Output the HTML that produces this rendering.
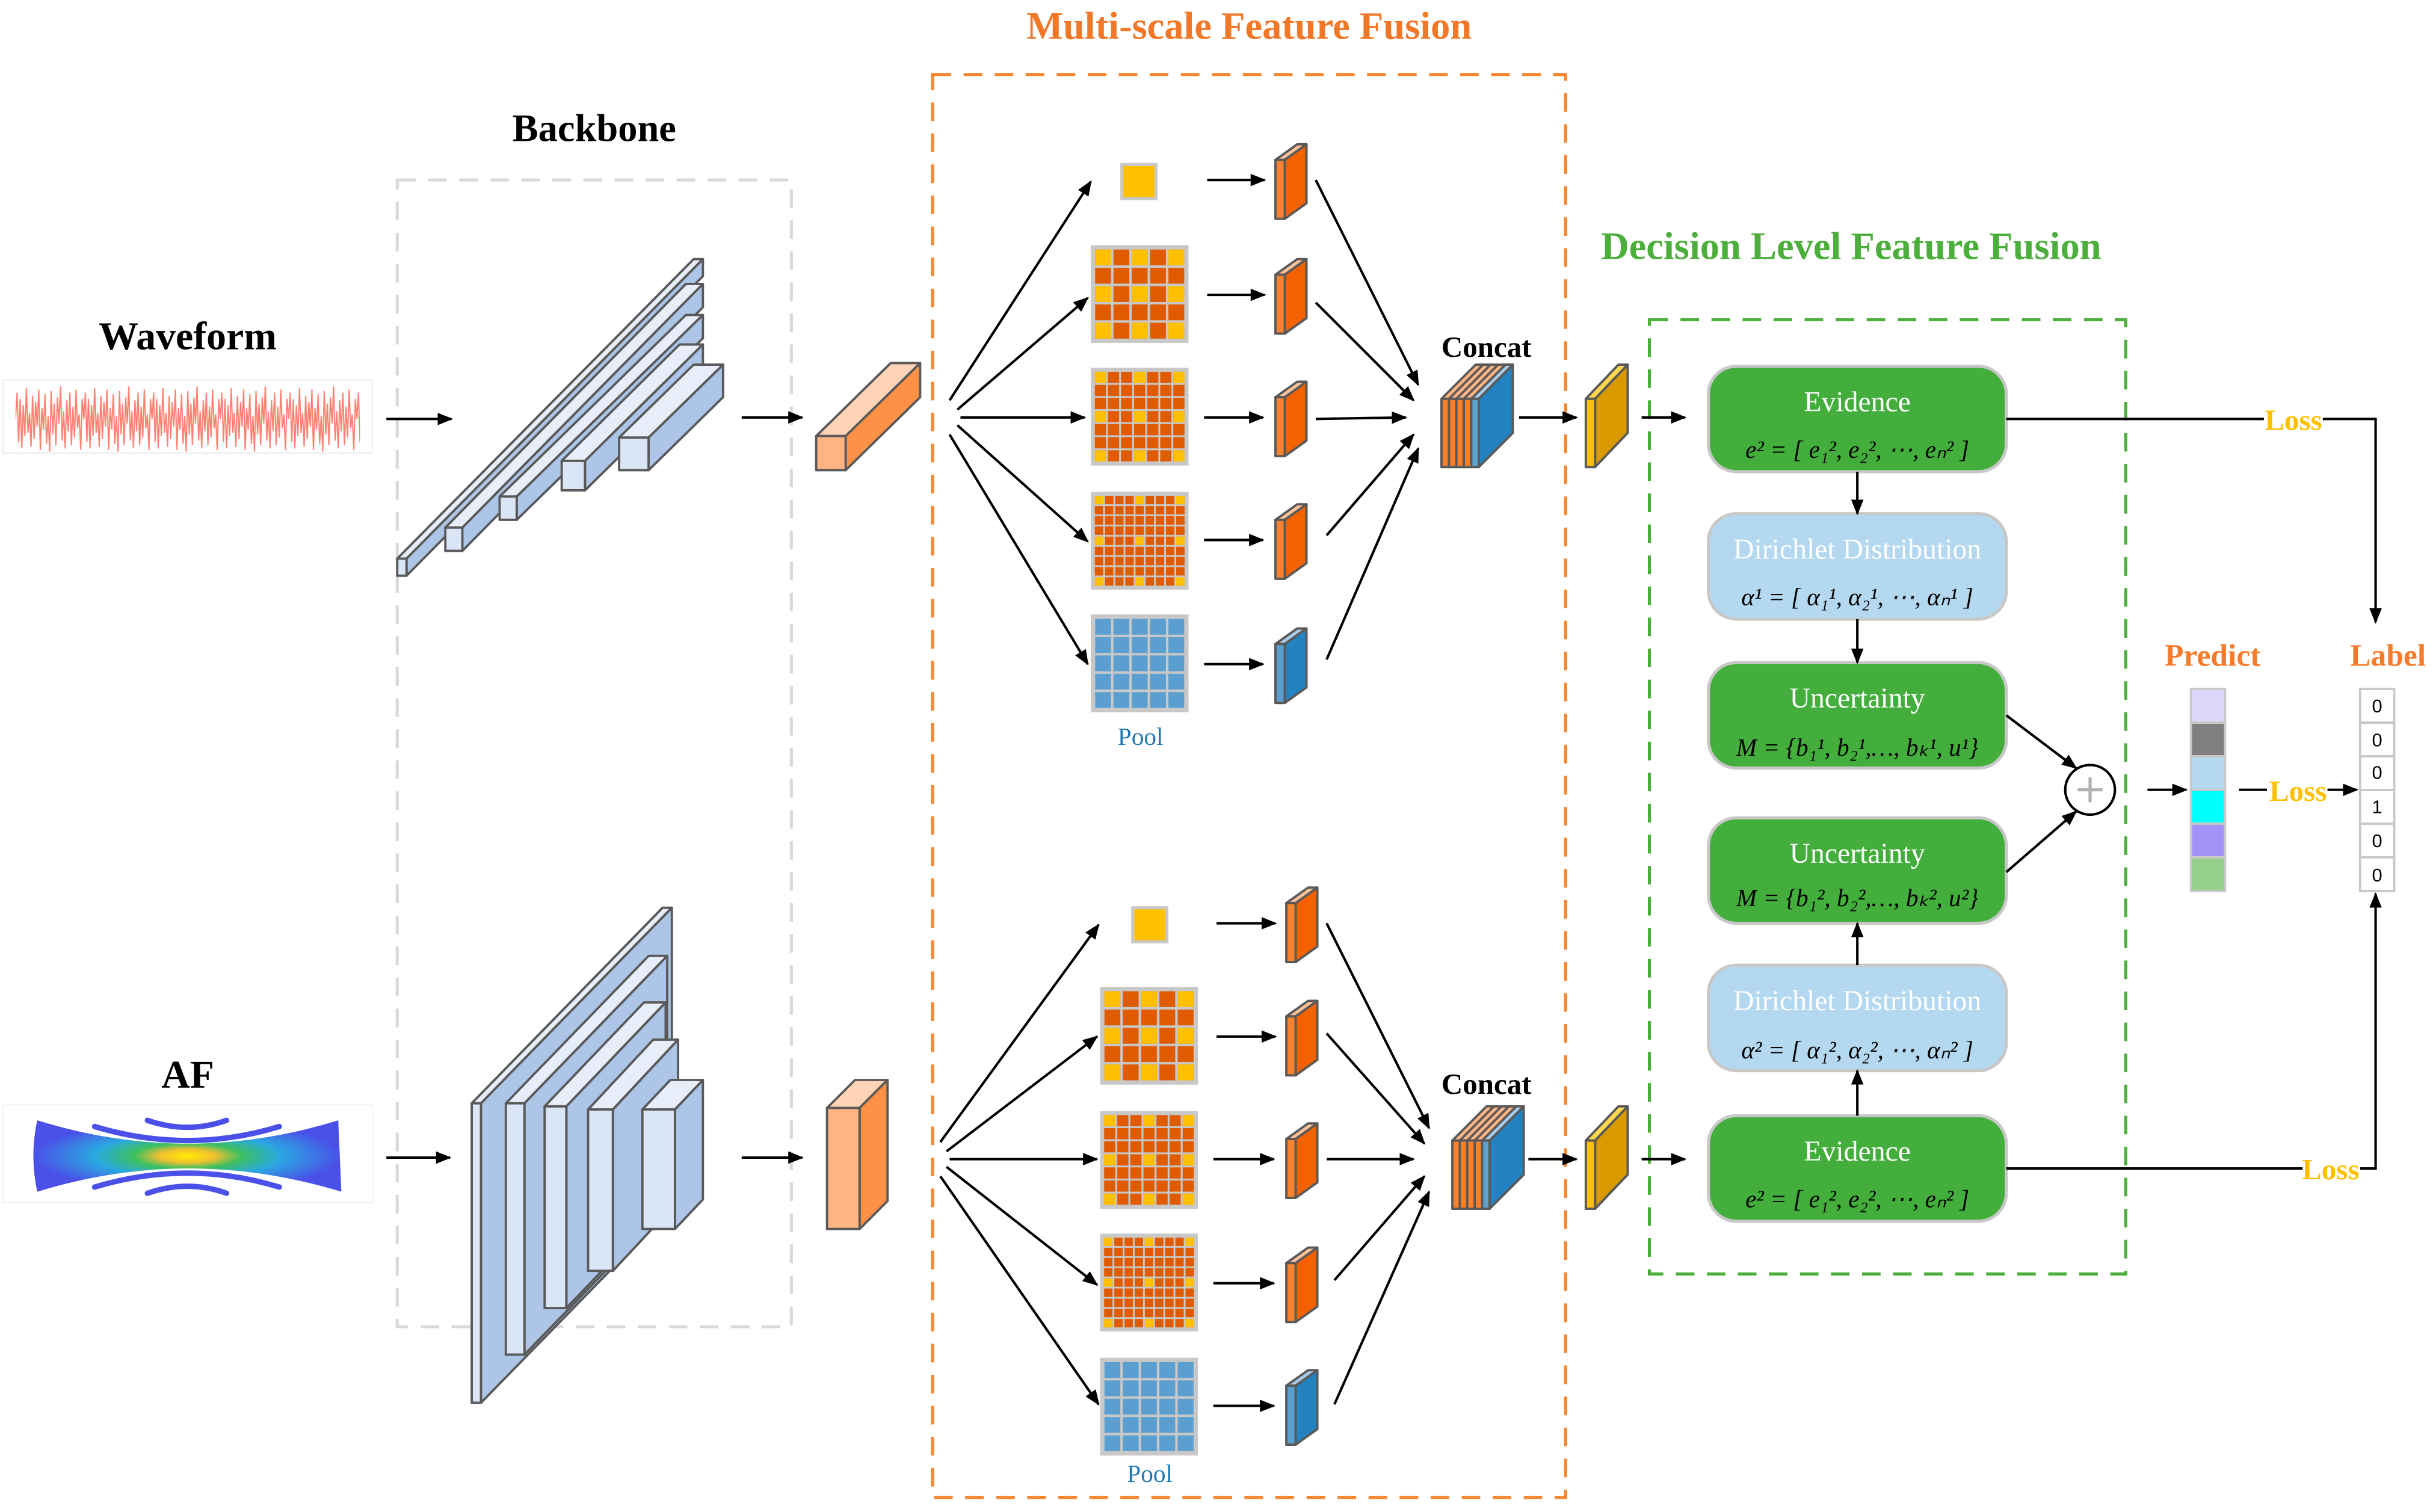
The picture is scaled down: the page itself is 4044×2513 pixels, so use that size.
<!DOCTYPE html>
<html><head><meta charset="utf-8"><style>
html,body{margin:0;padding:0;background:#fff;}
svg{display:block;}
text{font-family:"Liberation Serif",serif;}
</style></head><body>
<svg xmlns="http://www.w3.org/2000/svg" width="4044" height="2513" viewBox="0 0 1568 974.4" preserveAspectRatio="none">
<defs>
<marker id="ah" markerWidth="10" markerHeight="8" refX="9" refY="4" orient="auto" markerUnits="userSpaceOnUse"><path d="M0,0 L10,4 L0,8 Z" fill="#000"/></marker>
<pattern id="P5" x="2" y="2" width="11.8" height="11.8" patternUnits="userSpaceOnUse"><rect width="11.8" height="11.8" fill="#c8c8c8"/><rect x="0.8" y="0.8" width="10.2" height="10.2" fill="#e05a00"/></pattern>
<pattern id="B5" x="2" y="2" width="11.8" height="11.8" patternUnits="userSpaceOnUse"><rect width="11.8" height="11.8" fill="#c8c8c8"/><rect x="0.8" y="0.8" width="10.2" height="10.2" fill="#5b9fd0"/></pattern>
<pattern id="P7" x="2" y="2" width="8.4286" height="8.4286" patternUnits="userSpaceOnUse"><rect width="8.43" height="8.43" fill="#c8c8c8"/><rect x="0.6" y="0.6" width="7.2" height="7.2" fill="#e05a00"/></pattern>
<pattern id="P9" x="2" y="2" width="6.5556" height="6.5556" patternUnits="userSpaceOnUse"><rect width="6.56" height="6.56" fill="#c8c8c8"/><rect x="0.58" y="0.58" width="5.4" height="5.4" fill="#e05a00"/></pattern>
<pattern id="WV" x="10" y="247" width="44" height="46" patternUnits="userSpaceOnUse">
<polyline fill="none" stroke="#ff8070" stroke-width="0.8" points="0,23 1,6 2,38 3,10 4,42 5,14 6,34 7,3 8,32 9,19 10,41 11,8 12,36 13,12 14,28 15,4 16,43 17,16 18,30 19,7 20,39 21,21 22,44 23,5 24,33 25,13 26,40 27,9 28,26 29,2 30,37 31,18 32,42 33,11 34,31 35,6 36,40 37,15 38,35 39,4 40,29 41,20 42,43 43,10 44,23"/></pattern>
<radialGradient id="afg" cx="0.5" cy="0.5" r="0.5"><stop offset="0" stop-color="#ffee00"/><stop offset="0.18" stop-color="#f0c030"/><stop offset="0.35" stop-color="#3cc060"/><stop offset="0.6" stop-color="#2aa8e0"/><stop offset="1" stop-color="#4a50e8"/></radialGradient>

<g id="g5"><rect width="63" height="63" fill="#c8c8c8"/><rect x="2" y="2" width="59" height="59" fill="url(#P5)"/>
<g fill="#ffc000"><rect x="2.8" y="2.8" width="10.2" height="10.2"/><rect x="26.4" y="2.8" width="10.2" height="10.2"/><rect x="50" y="2.8" width="10.2" height="10.2"/><rect x="2.8" y="26.4" width="10.2" height="10.2"/><rect x="26.4" y="26.4" width="10.2" height="10.2"/><rect x="50" y="26.4" width="10.2" height="10.2"/><rect x="2.8" y="50" width="10.2" height="10.2"/><rect x="26.4" y="50" width="10.2" height="10.2"/><rect x="50" y="50" width="10.2" height="10.2"/></g></g>
<g id="g7"><rect width="63" height="63" fill="#c8c8c8"/><rect x="2" y="2" width="59" height="59" fill="url(#P7)"/>
<g fill="#ffc000"><rect x="2.6" y="2.6" width="7.2" height="7.2"/><rect x="27.9" y="2.6" width="7.2" height="7.2"/><rect x="53.2" y="2.6" width="7.2" height="7.2"/><rect x="2.6" y="27.9" width="7.2" height="7.2"/><rect x="27.9" y="27.9" width="7.2" height="7.2"/><rect x="53.2" y="27.9" width="7.2" height="7.2"/><rect x="2.6" y="53.2" width="7.2" height="7.2"/><rect x="27.9" y="53.2" width="7.2" height="7.2"/><rect x="53.2" y="53.2" width="7.2" height="7.2"/></g></g>
<g id="g9"><rect width="63" height="63" fill="#c8c8c8"/><rect x="2" y="2" width="59" height="59" fill="url(#P9)"/>
<g fill="#ffc000"><rect x="2.58" y="2.58" width="5.4" height="5.4"/><rect x="28.8" y="2.58" width="5.4" height="5.4"/><rect x="55.0" y="2.58" width="5.4" height="5.4"/><rect x="2.58" y="28.8" width="5.4" height="5.4"/><rect x="28.8" y="28.8" width="5.4" height="5.4"/><rect x="55.0" y="28.8" width="5.4" height="5.4"/><rect x="2.58" y="55.0" width="5.4" height="5.4"/><rect x="28.8" y="55.0" width="5.4" height="5.4"/><rect x="55.0" y="55.0" width="5.4" height="5.4"/></g></g>
<g id="gb"><rect width="63" height="63" fill="#c8c8c8"/><rect x="2" y="2" width="59" height="59" fill="url(#B5)"/></g>
<g id="gs"><rect x="0" y="0" width="22" height="22" fill="#ffc000" stroke="#c8c8c8" stroke-width="2"/></g>

<g id="bo" stroke="#595959" stroke-width="1.5" stroke-linejoin="round"><polygon points="0,0 6,0 20,-10 14,-10" fill="#ffc199"/><polygon points="6,0 20,-10 20,28 6,38" fill="#f46200"/><rect x="0" y="0" width="6" height="38" fill="#f58330"/></g>
<g id="bb" stroke="#595959" stroke-width="1.5" stroke-linejoin="round"><polygon points="0,0 6,0 20,-10 14,-10" fill="#a9cce8"/><polygon points="6,0 20,-10 20,28 6,38" fill="#2383c1"/><rect x="0" y="0" width="6" height="38" fill="#5b9fd0"/></g>

<g id="cc" stroke="#595959" stroke-width="1.5" stroke-linejoin="round">
<polygon points="0,0 24,0 46,-22 22,-22" fill="#ffb482"/>
<polygon points="19.2,0 24,0 46,-22 41.2,-22" fill="#a9cce8"/>
<line x1="4.8" y1="0" x2="26.8" y2="-22"/><line x1="9.6" y1="0" x2="31.6" y2="-22"/><line x1="14.4" y1="0" x2="36.4" y2="-22"/><line x1="19.2" y1="0" x2="41.2" y2="-22"/>
<polygon points="24,0 46,-22 46,22 24,44" fill="#2383c1"/>
<rect x="0" y="0" width="4.8" height="44" fill="#fd8026"/><rect x="4.8" y="0" width="4.8" height="44" fill="#fd8026"/><rect x="9.6" y="0" width="4.8" height="44" fill="#fd8026"/><rect x="14.4" y="0" width="4.8" height="44" fill="#fd8026"/><rect x="19.2" y="0" width="4.8" height="44" fill="#5ea3d0"/></g>
<g id="gd" stroke="#595959" stroke-width="1.5" stroke-linejoin="round"><polygon points="0,0 6,0 27,-22 21,-22" fill="#ffd84f"/><polygon points="6,0 27,-22 27,22 6,44" fill="#d99a00"/><rect x="0" y="0" width="6" height="44" fill="#ffc000"/></g>
</defs>

<!-- Titles -->
<text x="805" y="25" font-size="25" font-weight="bold" fill="#f07828" text-anchor="middle">Multi-scale Feature Fusion</text>
<text x="383" y="91" font-size="25" font-weight="bold" fill="#000" text-anchor="middle">Backbone</text>
<text x="1193" y="167" font-size="25" font-weight="bold" fill="#4caf3c" text-anchor="middle">Decision Level Feature Fusion</text>
<text x="121" y="225" font-size="25.5" font-weight="bold" text-anchor="middle">Waveform</text>
<text x="121" y="701" font-size="25.5" font-weight="bold" text-anchor="middle">AF</text>

<!-- Dashed boxes -->
<rect x="256" y="116" width="254" height="739" fill="none" stroke="#d9d9d9" stroke-width="2" stroke-dasharray="12,8"/>
<rect x="601" y="48" width="408" height="917" fill="none" stroke="#f7862f" stroke-width="2" stroke-dasharray="12,8"/>
<rect x="1063" y="206" width="307" height="615" fill="none" stroke="#4caf3c" stroke-width="2" stroke-dasharray="12,8"/>

<!-- Waveform -->
<rect x="2" y="245" width="238" height="47" fill="#fff" stroke="#e6e6e6" stroke-width="0.6"/>
<rect x="10" y="247" width="222" height="45" fill="url(#WV)"/>

<!-- AF -->
<rect x="2" y="712" width="238" height="63" fill="#fff" stroke="#eeeeee" stroke-width="0.6"/>
<path d="M24,722 Q121,752 218,722 L220,768 Q121,738 24,768 Q19,745 24,722 Z" fill="url(#afg)"/>
<g fill="none" stroke="#4a50e8" stroke-width="3.5" stroke-linecap="round">
<path d="M61,726 Q121,744 180,726"/><path d="M95,722 Q121,731 146,722"/>
<path d="M61,765 Q121,747 180,765"/><path d="M95,769 Q121,760 146,769"/></g>

<!-- Arrows left -->
<g stroke="#000" stroke-width="1.6" fill="none" marker-end="url(#ah)">
<line x1="249" y1="270" x2="291" y2="270"/><line x1="478" y1="269" x2="517" y2="269"/>
<line x1="249" y1="746" x2="290" y2="746"/><line x1="478" y1="746" x2="517" y2="746"/>
</g>

<!-- Backbone waveform -->
<g stroke="#595959" stroke-width="1.5" stroke-linejoin="round">
<polygon points="256,360 262,360 453,167 447,167" fill="#e8eef9"/><polygon points="262,360 453,167 453,178 262,371" fill="#adc6e8"/><rect x="256" y="360" width="6" height="11" fill="#dae5f5"/>
<polygon points="287,340 298,340 453,183 442,183" fill="#e8eef9"/><polygon points="298,340 453,183 453,198 298,355" fill="#adc6e8"/><rect x="287" y="340" width="11" height="15" fill="#dae5f5"/>
<polygon points="322,320 333,320 453,203 442,203" fill="#e8eef9"/><polygon points="333,320 453,203 453,218 333,335" fill="#adc6e8"/><rect x="322" y="320" width="11" height="15" fill="#dae5f5"/>
<polygon points="362,297 377,297 453,222 438,222" fill="#e8eef9"/><polygon points="377,297 453,222 453,241 377,316" fill="#adc6e8"/><rect x="362" y="297" width="15" height="19" fill="#dae5f5"/>
<polygon points="399,282 418,282 466,235 447,235" fill="#e8eef9"/><polygon points="418,282 466,235 466,256 418,303" fill="#adc6e8"/><rect x="399" y="282" width="19" height="21" fill="#dae5f5"/>
</g>
<!-- Orange block upper -->
<g stroke="#595959" stroke-width="1.5" stroke-linejoin="round">
<polygon points="526,281 545,281 593,234 574,234" fill="#ffd3b5"/><polygon points="545,281 593,234 593,256 545,303" fill="#ff9147"/><rect x="526" y="281" width="19" height="22" fill="#ffb482"/>
</g>

<!-- Backbone AF plates -->
<g stroke="#595959" stroke-width="1.5" stroke-linejoin="round">
<polygon points="304,711 310,711 433,585 427,585" fill="#e8eef9"/><polygon points="310,711 433,585 433,778 310,904" fill="#adc6e8"/><rect x="304" y="711" width="6" height="193" fill="#dae5f5"/>
<polygon points="326,711 338,711 430,616 418,616" fill="#e8eef9"/><polygon points="338,711 430,616 430,778 338,873" fill="#adc6e8"/><rect x="326" y="711" width="12" height="162" fill="#dae5f5"/>
<polygon points="351,713 365,713 429,646 415,646" fill="#e8eef9"/><polygon points="365,713 429,646 429,776 365,843" fill="#adc6e8"/><rect x="351" y="713" width="14" height="130" fill="#dae5f5"/>
<polygon points="379,715 395,715 437,670 421,670" fill="#e8eef9"/><polygon points="395,715 437,670 437,774 395,819" fill="#adc6e8"/><rect x="379" y="715" width="16" height="104" fill="#dae5f5"/>
<polygon points="414,715 435,715 453,696 432,696" fill="#e8eef9"/><polygon points="435,715 453,696 453,773 435,792" fill="#adc6e8"/><rect x="414" y="715" width="21" height="77" fill="#dae5f5"/>
</g>
<g stroke="#595959" stroke-width="1.5" stroke-linejoin="round">
<polygon points="533,714 554,714 572,696 551,696" fill="#ffd3b5"/><polygon points="554,714 572,696 572,774 554,792" fill="#ff9147"/><rect x="533" y="714" width="21" height="78" fill="#ffb482"/>
</g>

<!-- Upper multi-scale -->
<g stroke="#000" stroke-width="1.6" fill="none" marker-end="url(#ah)">
<line x1="612" y1="258" x2="703" y2="117"/><line x1="617" y1="264" x2="701" y2="192"/><line x1="619" y1="269" x2="699" y2="269"/><line x1="617" y1="274" x2="701" y2="349"/><line x1="612" y1="280" x2="701" y2="428"/>
<line x1="778" y1="116" x2="815" y2="116"/><line x1="778" y1="190" x2="815" y2="190"/><line x1="776" y1="269" x2="814" y2="269"/><line x1="776" y1="348" x2="814" y2="348"/><line x1="776" y1="428" x2="814" y2="428"/>
<line x1="848" y1="116" x2="914" y2="248"/><line x1="848" y1="195" x2="911" y2="258"/><line x1="848" y1="270" x2="906" y2="269"/><line x1="855" y1="345" x2="911" y2="280"/><line x1="855" y1="425" x2="914" y2="289"/>
</g>
<use href="#gs" x="723" y="106"/>
<use href="#g5" x="703" y="158"/>
<use href="#g7" x="703" y="237"/>
<use href="#g9" x="703" y="317"/>
<use href="#gb" x="703" y="396"/>
<text x="735" y="480" font-size="16" fill="#1f78b4" text-anchor="middle">Pool</text>
<use href="#bo" x="822" y="103"/>
<use href="#bo" x="822" y="177"/>
<use href="#bo" x="822" y="256"/>
<use href="#bo" x="822" y="335"/>
<use href="#bb" x="822" y="415"/>
<text x="958" y="230" font-size="19" font-weight="bold" text-anchor="middle">Concat</text>
<use href="#cc" x="929" y="257"/>
<use href="#gd" x="1022" y="257"/>
<g stroke="#000" stroke-width="1.6" fill="none" marker-end="url(#ah)">
<line x1="979" y1="269" x2="1016" y2="269"/><line x1="1058" y1="269" x2="1086" y2="269"/>
</g>

<!-- Lower multi-scale -->
<g stroke="#000" stroke-width="1.6" fill="none" marker-end="url(#ah)">
<line x1="606" y1="736" x2="708" y2="596"/><line x1="610" y1="742" x2="707" y2="668"/><line x1="612" y1="747" x2="707" y2="747"/><line x1="610" y1="752" x2="707" y2="828"/><line x1="606" y1="758" x2="708" y2="905"/>
<line x1="784" y1="595" x2="822" y2="595"/><line x1="784" y1="668" x2="822" y2="668"/><line x1="782" y1="747" x2="821" y2="747"/><line x1="782" y1="827" x2="821" y2="827"/><line x1="782" y1="906" x2="821" y2="906"/>
<line x1="855" y1="595" x2="921" y2="727"/><line x1="855" y1="666" x2="918" y2="737"/><line x1="855" y1="747" x2="911" y2="747"/><line x1="860" y1="825" x2="918" y2="758"/><line x1="860" y1="905" x2="921" y2="768"/>
</g>
<use href="#gs" x="730" y="585"/>
<use href="#g5" x="709" y="636"/>
<use href="#g7" x="709" y="716"/>
<use href="#g9" x="709" y="795"/>
<use href="#gb" x="709" y="875"/>
<text x="741" y="955" font-size="16" fill="#1f78b4" text-anchor="middle">Pool</text>
<use href="#bo" x="829" y="582"/>
<use href="#bo" x="829" y="655"/>
<use href="#bo" x="829" y="734"/>
<use href="#bo" x="829" y="814"/>
<use href="#bb" x="829" y="893"/>
<text x="958" y="705" font-size="19" font-weight="bold" text-anchor="middle">Concat</text>
<use href="#cc" x="936" y="735"/>
<use href="#gd" x="1022" y="735"/>
<g stroke="#000" stroke-width="1.6" fill="none" marker-end="url(#ah)">
<line x1="985" y1="747" x2="1016" y2="747"/><line x1="1058" y1="747" x2="1086" y2="747"/>
</g>

<!-- Decision boxes -->
<g stroke="#c8c8c8" stroke-width="2">
<rect x="1101" y="236" width="192" height="68" rx="18" fill="#43ae3c"/>
<rect x="1101" y="331" width="192" height="68" rx="18" fill="#b4d8ef"/>
<rect x="1101" y="427" width="192" height="68" rx="18" fill="#43ae3c"/>
<rect x="1101" y="527" width="192" height="68" rx="18" fill="#43ae3c"/>
<rect x="1101" y="622" width="192" height="68" rx="18" fill="#b4d8ef"/>
<rect x="1101" y="719" width="192" height="68" rx="18" fill="#43ae3c"/>
</g>
<g fill="#fff" font-size="18.5" text-anchor="middle">
<text x="1197" y="265">Evidence</text>
<text x="1197" y="360">Dirichlet Distribution</text>
<text x="1197" y="456">Uncertainty</text>
<text x="1197" y="556">Uncertainty</text>
<text x="1197" y="651">Dirichlet Distribution</text>
<text x="1197" y="748">Evidence</text>
</g>
<g fill="#000" font-size="16" font-style="italic" text-anchor="middle">
<text x="1197" y="295">e² = [ e₁², e₂², ⋯, eₙ² ]</text>
<text x="1197" y="390">α¹ = [ α₁¹, α₂¹, ⋯, αₙ¹ ]</text>
<text x="1197" y="487">M = {b₁¹, b₂¹,…, bₖ¹, u¹}</text>
<text x="1197" y="584">M = {b₁², b₂²,…, bₖ², u²}</text>
<text x="1197" y="682">α² = [ α₁², α₂², ⋯, αₙ² ]</text>
<text x="1197" y="778">e² = [ e₁², e₂², ⋯, eₙ² ]</text>
</g>
<g stroke="#000" stroke-width="1.6" fill="none" marker-end="url(#ah)">
<line x1="1197" y1="304" x2="1197" y2="331"/><line x1="1197" y1="399" x2="1197" y2="427"/>
<line x1="1197" y1="622" x2="1197" y2="595"/><line x1="1197" y1="719" x2="1197" y2="690"/>
<line x1="1293" y1="461" x2="1338" y2="495"/><line x1="1293" y1="562" x2="1338" y2="523"/>
<line x1="1384" y1="509" x2="1409" y2="509"/>
<line x1="1500" y1="509" x2="1519" y2="509"/>
<polyline points="1497,270 1531,270 1531,401"/>
<polyline points="1521,753 1531,753 1531,576"/>
</g>
<g stroke="#000" stroke-width="1.6" fill="none">
<line x1="1293" y1="270" x2="1459" y2="270"/>
<line x1="1443" y1="509" x2="1461" y2="509"/>
<line x1="1293" y1="753" x2="1484" y2="753"/>
</g>
<circle cx="1347" cy="509" r="16" fill="#fff" stroke="#000" stroke-width="1.6"/>
<g stroke="#b0b0b0" stroke-width="2"><line x1="1339" y1="509" x2="1355" y2="509"/><line x1="1347" y1="501" x2="1347" y2="517"/></g>
<g fill="#ffc000" font-size="19" font-weight="bold" text-anchor="middle">
<text x="1478" y="277">Loss</text><text x="1481" y="516">Loss</text><text x="1502" y="760">Loss</text></g>
<g fill="#f47c2c" font-size="20" font-weight="bold" text-anchor="middle">
<text x="1426" y="429">Predict</text><text x="1539" y="429">Label</text></g>
<g stroke="#c8c8c8" stroke-width="1.5">
<rect x="1412" y="444" width="22" height="21.7" fill="#dcd7fb"/>
<rect x="1412" y="465.7" width="22" height="21.7" fill="#7f7f7f"/>
<rect x="1412" y="487.4" width="22" height="21.7" fill="#b4d8ef"/>
<rect x="1412" y="509.1" width="22" height="21.7" fill="#00ffff"/>
<rect x="1412" y="530.8" width="22" height="21.7" fill="#a393f8"/>
<rect x="1412" y="552.5" width="22" height="21.7" fill="#95d08a"/>
<rect x="1521" y="444" width="22" height="21.7" fill="#fff"/>
<rect x="1521" y="465.7" width="22" height="21.7" fill="#fff"/>
<rect x="1521" y="487.4" width="22" height="21.7" fill="#fff"/>
<rect x="1521" y="509.1" width="22" height="21.7" fill="#fff"/>
<rect x="1521" y="530.8" width="22" height="21.7" fill="#fff"/>
<rect x="1521" y="552.5" width="22" height="21.7" fill="#fff"/>
</g>
<g font-size="12" text-anchor="middle" fill="#000">
<text x="1532" y="459" style="font-family:'Liberation Sans',sans-serif">0</text>
<text x="1532" y="481" style="font-family:'Liberation Sans',sans-serif">0</text>
<text x="1532" y="502" style="font-family:'Liberation Sans',sans-serif">0</text>
<text x="1532" y="524" style="font-family:'Liberation Sans',sans-serif">1</text>
<text x="1532" y="546" style="font-family:'Liberation Sans',sans-serif">0</text>
<text x="1532" y="568" style="font-family:'Liberation Sans',sans-serif">0</text>
</g>
</svg>
</body></html>
